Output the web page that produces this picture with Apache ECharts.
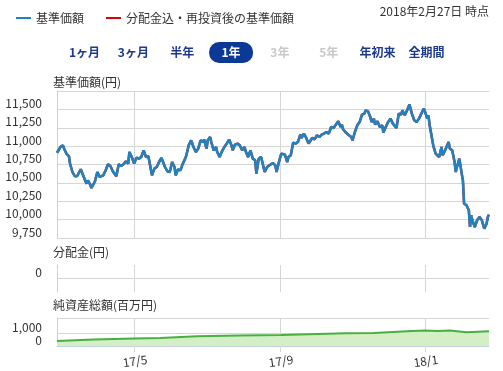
<!DOCTYPE html>
<html><head><meta charset="utf-8">
<script src="https://cdn.jsdelivr.net/npm/echarts@6/dist/echarts.min.js"></script>
<style>html,body{margin:0;padding:0;background:#fff}#chart{width:503px;height:371px}</style>
</head><body><div id="chart"></div>
<script>
// 基準価額 (円)
const navDates = [
'2017-02-25','2017-02-28','2017-03-02','2017-03-03','2017-03-05','2017-03-07','2017-03-08','2017-03-10','2017-03-12','2017-03-14','2017-03-15','2017-03-17','2017-03-19','2017-03-21','2017-03-22','2017-03-23','2017-03-25','2017-03-26','2017-03-29','2017-03-31',
'2017-04-01','2017-04-02','2017-04-05','2017-04-07','2017-04-09','2017-04-11','2017-04-13','2017-04-14','2017-04-16','2017-04-18','2017-04-20','2017-04-22','2017-04-24','2017-04-26','2017-04-27','2017-04-29',
'2017-05-01','2017-05-03','2017-05-05','2017-05-07','2017-05-09','2017-05-11','2017-05-13','2017-05-16','2017-05-18','2017-05-20','2017-05-22','2017-05-24','2017-05-27','2017-05-29','2017-05-31',
'2017-06-02','2017-06-04','2017-06-05','2017-06-07','2017-06-09','2017-06-11','2017-06-13','2017-06-14','2017-06-16','2017-06-17','2017-06-18','2017-06-20','2017-06-22','2017-06-24','2017-06-26','2017-06-28','2017-06-29',
'2017-07-01','2017-07-02','2017-07-04','2017-07-05','2017-07-07','2017-07-09','2017-07-10','2017-07-12','2017-07-14','2017-07-16','2017-07-18','2017-07-20','2017-07-22','2017-07-23','2017-07-25','2017-07-27','2017-07-29','2017-07-31',
'2017-08-02','2017-08-03','2017-08-05','2017-08-07','2017-08-09','2017-08-11','2017-08-12','2017-08-14','2017-08-16','2017-08-17','2017-08-19','2017-08-21','2017-08-23','2017-08-26','2017-08-28','2017-08-29','2017-08-31',
'2017-09-02','2017-09-05','2017-09-07','2017-09-08','2017-09-10','2017-09-12','2017-09-14','2017-09-16','2017-09-18','2017-09-19','2017-09-21','2017-09-23','2017-09-25','2017-09-28','2017-09-30',
'2017-10-02','2017-10-04','2017-10-06','2017-10-08','2017-10-10','2017-10-12','2017-10-14','2017-10-16','2017-10-17','2017-10-20','2017-10-22','2017-10-23','2017-10-24','2017-10-26','2017-10-29','2017-10-31',
'2017-11-01','2017-11-03','2017-11-05','2017-11-07','2017-11-09','2017-11-11','2017-11-12','2017-11-14','2017-11-16','2017-11-17','2017-11-19','2017-11-20','2017-11-22','2017-11-24','2017-11-26','2017-11-27','2017-11-29',
'2017-12-01','2017-12-03','2017-12-05','2017-12-08','2017-12-10','2017-12-12','2017-12-13','2017-12-15','2017-12-17','2017-12-19','2017-12-21','2017-12-23','2017-12-25','2017-12-27','2017-12-29','2017-12-31',
'2018-01-01','2018-01-03','2018-01-04','2018-01-05','2018-01-06','2018-01-08','2018-01-10','2018-01-11','2018-01-13','2018-01-15','2018-01-16','2018-01-18','2018-01-21','2018-01-22','2018-01-24','2018-01-26','2018-01-27','2018-01-28','2018-01-30',
'2018-02-01','2018-02-02','2018-02-03','2018-02-05','2018-02-07','2018-02-08','2018-02-09','2018-02-10','2018-02-12','2018-02-14','2018-02-16','2018-02-18','2018-02-20','2018-02-22','2018-02-23','2018-02-24'
];
const navValues = [
10910,10990,11010,10965,10895,10865,10760,10648,10590,10594,10580,10685,10603,10522,10490,10535,10476,10430,10522,10648,
10626,10580,10603,10671,10753,10730,10658,10671,10590,10753,10730,10753,10794,10762,10921,10852,
10762,10844,10830,10852,10943,10852,10862,10603,10694,10716,10784,10839,10716,10658,10648,
10784,10716,10603,10685,10671,10762,10830,10875,11011,11034,11079,10988,10920,10966,11079,11056,11089,
10966,11079,11124,11056,10943,10988,10920,10852,10930,10988,11034,11089,11011,10943,11021,11034,11011,10943,
10988,10930,10852,10943,10830,10807,10626,10830,10852,10784,10648,10716,10739,10770,10739,10648,10784,
10898,10885,10784,10852,10875,11048,11034,11056,11157,11111,11170,11111,11034,11111,11093,
11147,11124,11157,11170,11192,11170,11260,11247,11238,11338,11260,11293,11229,11192,11147,11124,
11079,11192,11283,11328,11429,11443,11487,11474,11396,11328,11374,11293,11338,11260,11283,11184,11260,
11328,11374,11306,11247,11443,11429,11487,11419,11487,11565,11443,11351,11328,11374,11443,11510,
11474,11374,11419,11283,11306,11011,10898,10875,10852,10988,10875,10943,11056,10966,10943,10784,10648,10716,10830,
10626,10535,10218,10195,10127,9900,10059,9991,9900,9991,10036,9991,9878,9946,10036,10068
];
// 分配金込・再投資後の基準価額 (no distributions: identical to 基準価額)
const reinvestValues = navValues.slice();
// 分配金 (円): none paid in the period
const distributionDates = [];
const distributionValues = [];
// 純資産総額 (百万円)
const assetDates = ['2017-02-25','2017-03-28','2017-05-01','2017-05-23','2017-06-23','2017-07-29','2017-09-02','2017-10-26','2017-11-19','2017-12-17','2018-01-01','2018-01-12','2018-01-22','2018-02-05','2018-02-24'];
const assetValues = [400,515,595,645,780,835,885,1020,1050,1185,1240,1200,1240,1105,1185];

const monthTicks = ['2017-05-01','2017-09-01','2018-01-01'];
const axisStart = '2017-02-25';
const axisEnd = '2018-02-24';
const navMin = 9750, navMax = 11750, navStep = 250;
const distTicks = [0];
const assetTickValues = [0, 1000];
const assetMax = 2250;
const periodButtons = ['1ヶ月','3ヶ月','半年','1年','3年','5年','年初来','全期間'];
const activeButton = '1年';
const disabledButtons = ['3年','5年'];
const legendNames = ['基準価額','分配金込・再投資後の基準価額'];
const asOfText = '2018年2月27日 時点';
const panelTitles = ['基準価額(円)','分配金(円)','純資産総額(百万円)'];

const ts = s => { const p = s.split('-').map(Number); return new Date(p[0], p[1] - 1, p[2]).getTime(); };
const FONT = '"Noto Sans CJK JP","Noto Sans",sans-serif';
const GRID_C = '#d6d6d6';
const AXIS_C = '#c3d1e4';
const fmt = v => Number(v).toLocaleString('en-US');
const tickTs = monthTicks.map(ts);

function xAxisFor(idx, showLabels) {
  return {
    type: 'value', gridIndex: idx, min: ts(axisStart), max: ts(axisEnd),
    axisLine: { show: showLabels, lineStyle: { color: AXIS_C, width: 1 } },
    axisTick: { show: showLabels, customValues: tickTs, length: 6, lineStyle: { color: GRID_C } },
    axisLabel: {
      show: showLabels, customValues: tickTs, color: '#333', fontSize: 12, fontFamily: FONT,
      margin: 9, rotate: 8, align: 'center', verticalAlign: 'top',
      formatter: v => { const d = new Date(v); return (d.getFullYear() % 100) + '/' + (d.getMonth() + 1); }
    },
    splitLine: { show: true, lineStyle: { color: GRID_C, width: 1 } }
  };
}
const yLabel = { color: '#333', fontSize: 12, fontFamily: FONT, margin: 15, verticalAlign: 'bottom', formatter: fmt };

const graphics = [];
const btnX0 = 84.5, btnStep = 48.85, btnY = 52;
periodButtons.forEach((b, i) => {
  const cx = btnX0 + i * btnStep;
  if (b === activeButton) {
    graphics.push({ type: 'rect', shape: { x: cx - 22, y: 42, width: 44, height: 21, r: 10 }, style: { fill: '#0b3995' } });
  }
  graphics.push({ type: 'text', x: cx, y: btnY, style: {
    text: b, align: 'center', verticalAlign: 'middle', font: 'bold 12px ' + FONT,
    fill: b === activeButton ? '#fff' : (disabledButtons.includes(b) ? '#c9c9c9' : '#1b3a8c') } });
});
graphics.push({ type: 'text', x: 489, y: 11, style: { text: asOfText, align: 'right', verticalAlign: 'middle', font: '12px ' + FONT, fill: '#333' } });
const titleY = [82, 252, 305];
panelTitles.forEach((t, i) => graphics.push({ type: 'text', x: 53, y: titleY[i], style: { text: t, align: 'left', verticalAlign: 'middle', font: '12px ' + FONT, fill: '#333' } }));

const option = {
  animation: false,
  textStyle: { fontFamily: FONT },
  legend: {
    left: 11, top: 7, itemWidth: 15, itemHeight: 2, icon: 'rect', itemGap: 22, selectedMode: false,
    textStyle: { fontSize: 12, color: '#333', fontFamily: FONT },
    data: legendNames
  },
  grid: [
    { left: 57, right: 14, top: 91, height: 147 },
    { left: 57, right: 14, top: 265, height: 27 },
    { left: 57, right: 14, top: 318, height: 28 }
  ],
  xAxis: [xAxisFor(0, false), xAxisFor(1, false), xAxisFor(2, true)],
  yAxis: [
    { type: 'value', gridIndex: 0, min: navMin, max: navMax, interval: navStep,
      axisLine: { show: true, lineStyle: { color: AXIS_C } }, axisTick: { show: false },
      axisLabel: Object.assign({ showMaxLabel: false }, yLabel),
      splitLine: { lineStyle: { color: GRID_C } } },
    { type: 'value', gridIndex: 1, min: -1, max: 1,
      axisLine: { show: true, lineStyle: { color: AXIS_C } }, axisTick: { show: false, customValues: distTicks },
      axisLabel: Object.assign({ customValues: distTicks }, yLabel),
      splitLine: { lineStyle: { color: GRID_C } } },
    { type: 'value', gridIndex: 2, min: 0, max: assetMax,
      axisLine: { show: true, lineStyle: { color: AXIS_C } }, axisTick: { show: false, customValues: [0, 1000, assetMax] },
      axisLabel: Object.assign({ customValues: assetTickValues }, yLabel),
      splitLine: { lineStyle: { color: GRID_C } } }
  ],
  series: [
    { name: legendNames[1], type: 'line', xAxisIndex: 0, yAxisIndex: 0, showSymbol: false,
      color: '#d7000f', lineStyle: { width: 2.5 }, data: navDates.map((d, i) => [ts(d), reinvestValues[i]]) },
    { name: legendNames[0], type: 'line', xAxisIndex: 0, yAxisIndex: 0, showSymbol: false,
      color: '#1c84c0', lineStyle: { width: 2.5 }, data: navDates.map((d, i) => [ts(d), navValues[i]]) },
    { name: '分配金', type: 'bar', xAxisIndex: 1, yAxisIndex: 1, color: '#888',
      data: distributionDates.map((d, i) => [ts(d), distributionValues[i]]) },
    { name: '純資産総額', type: 'line', xAxisIndex: 2, yAxisIndex: 2, showSymbol: false,
      color: '#46b040', lineStyle: { width: 2 }, areaStyle: { color: '#d4efc6', opacity: 1 },
      data: assetDates.map((d, i) => [ts(d), assetValues[i]]) }
  ],
  graphic: graphics
};
const chart = echarts.init(document.getElementById('chart'));
chart.setOption(option);
</script></body></html>
